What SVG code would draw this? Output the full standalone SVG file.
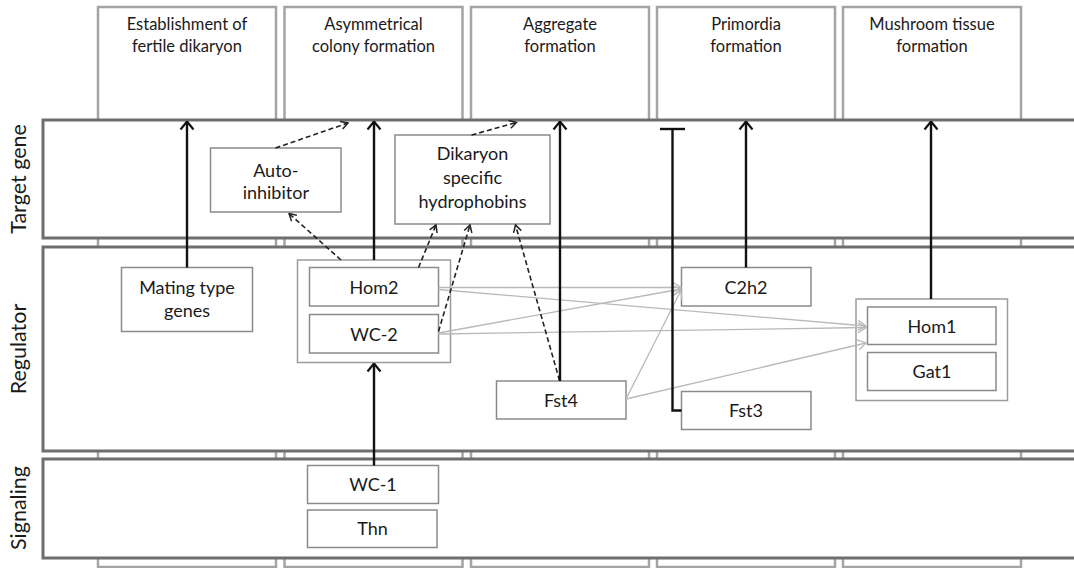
<svg xmlns="http://www.w3.org/2000/svg" width="1074" height="568" viewBox="0 0 1074 568">
  <style>
    text { font-family: Lato, "Liberation Sans", Arial, sans-serif; fill: #1a1a1a; text-anchor: middle; }
    .stage { fill: #ffffff; stroke: #a4a4a4; stroke-width: 2.5; }
    .band { fill: #ffffff; stroke: #6e6e6e; stroke-width: 3; }
    .box { fill: #ffffff; stroke: #8a8a8a; stroke-width: 1.5; }
    .grp { fill: #ffffff; stroke: #9c9c9c; stroke-width: 1.5; }
    .title { font-size: 16.5px; }
    .node { font-size: 18px; }
    .row { font-size: 21.5px; }
    .act { fill: none; stroke: #111111; stroke-width: 2.4; }
    .dash { fill: none; stroke: #222222; stroke-width: 1.6; stroke-dasharray: 5 3; }
    .weak { fill: none; stroke: #b9b9b9; stroke-width: 1.3; }
  </style>
  <defs>
    <marker id="arrow-solid" viewBox="0 0 10 16" refX="9" refY="8" markerWidth="10" markerHeight="16" markerUnits="userSpaceOnUse" orient="auto">
      <path d="M1,1.5 L9,8 L1,14.5" fill="none" stroke="#111111" stroke-width="2.2" stroke-dasharray="none"/>
    </marker>
    <marker id="arrow-dash" viewBox="0 0 9 10" refX="8" refY="5" markerWidth="9" markerHeight="10" markerUnits="userSpaceOnUse" orient="auto">
      <path d="M1,1 L8,5 L1,9" fill="none" stroke="#222222" stroke-width="1.5" stroke-dasharray="none"/>
    </marker>
    <marker id="arrow-weak" viewBox="0 0 10 12" refX="9" refY="6" markerWidth="10" markerHeight="12" markerUnits="userSpaceOnUse" orient="auto">
      <path d="M1,1 L9,6 L1,11" fill="none" stroke="#b9b9b9" stroke-width="1.3" stroke-dasharray="none"/>
    </marker>
  </defs>

  <!-- developmental stage columns -->
  <g id="stages">
    <rect class="stage" x="98" y="7" width="178" height="560"/>
    <rect class="stage" x="284.5" y="7" width="178" height="560"/>
    <rect class="stage" x="471" y="7" width="178" height="560"/>
    <rect class="stage" x="657" y="7" width="178" height="560"/>
    <rect class="stage" x="843" y="7" width="178" height="560"/>
    <text class="title" x="187" y="30">Establishment of</text>
    <text class="title" x="187" y="52">fertile dikaryon</text>
    <text class="title" x="373.5" y="30">Asymmetrical</text>
    <text class="title" x="373.5" y="52">colony formation</text>
    <text class="title" x="560" y="30">Aggregate</text>
    <text class="title" x="560" y="52">formation</text>
    <text class="title" x="746" y="30">Primordia</text>
    <text class="title" x="746" y="52">formation</text>
    <text class="title" x="932" y="30">Mushroom tissue</text>
    <text class="title" x="932" y="52">formation</text>
  </g>

  <!-- horizontal level bands -->
  <g id="bands">
    <rect class="band" x="43" y="120" width="1050" height="118"/>
    <rect class="band" x="43" y="247" width="1050" height="204"/>
    <rect class="band" x="43" y="459" width="1050" height="99"/>
    <text class="row" transform="translate(26,179) rotate(-90)">Target gene</text>
    <text class="row" transform="translate(26,349) rotate(-90)">Regulator</text>
    <text class="row" transform="translate(26,508) rotate(-90)">Signaling</text>
  </g>

  <!-- target genes -->
  <g id="auto-inhibitor">
    <rect class="box" x="210.5" y="148" width="130.5" height="64"/>
    <text class="node" x="275.8" y="177">Auto-</text>
    <text class="node" x="275.8" y="198.5">inhibitor</text>
  </g>
  <g id="hydrophobins">
    <rect class="box" x="395" y="135" width="155" height="89"/>
    <text class="node" x="472.5" y="160">Dikaryon</text>
    <text class="node" x="472.5" y="184">specific</text>
    <text class="node" x="472.5" y="208">hydrophobins</text>
  </g>

  <!-- regulators -->
  <g id="mating-type">
    <rect class="box" x="121.5" y="267.5" width="131" height="64"/>
    <text class="node" x="187" y="294">Mating type</text>
    <text class="node" x="187" y="317">genes</text>
  </g>
  <g id="hom2-wc2">
    <rect class="grp" x="297.5" y="260" width="153" height="102.5"/>
    <g id="hom2">
      <rect class="box" x="309.5" y="267.5" width="129" height="38.5"/>
      <text class="node" x="374" y="293.5">Hom2</text>
    </g>
    <g id="wc2">
      <rect class="box" x="309.5" y="314.5" width="129" height="38.5"/>
      <text class="node" x="374" y="340.5">WC-2</text>
    </g>
  </g>
  <g id="fst4">
    <rect class="box" x="496.5" y="381" width="129.5" height="38"/>
    <text class="node" x="561" y="406.5">Fst4</text>
  </g>
  <g id="c2h2">
    <rect class="box" x="681.5" y="267.5" width="129.5" height="38.5"/>
    <text class="node" x="746" y="294">C2h2</text>
  </g>
  <g id="fst3">
    <rect class="box" x="681.5" y="391.5" width="129.5" height="38"/>
    <text class="node" x="746" y="417">Fst3</text>
  </g>
  <g id="hom1-gat1">
    <rect class="grp" x="856" y="299" width="151.5" height="101.5"/>
    <g id="hom1">
      <rect class="box" x="867.5" y="307" width="128.5" height="37.5"/>
      <text class="node" x="932" y="332.5">Hom1</text>
    </g>
    <g id="gat1">
      <rect class="box" x="867.5" y="352.5" width="128.5" height="38"/>
      <text class="node" x="932" y="378">Gat1</text>
    </g>
  </g>

  <!-- signaling -->
  <g id="wc1">
    <rect class="box" x="307.5" y="465.5" width="131" height="38"/>
    <text class="node" x="373" y="491">WC-1</text>
  </g>
  <g id="thn">
    <rect class="box" x="307.5" y="510" width="129.5" height="37.5"/>
    <text class="node" x="372.5" y="535">Thn</text>
  </g>

  <!-- connectors -->
  <g id="connectors">
    <!-- weak regulatory links -->
    <line class="weak" x1="438.5" y1="287.5" x2="681" y2="287.5" marker-end="url(#arrow-weak)"/>
    <line class="weak" x1="438.5" y1="289.5" x2="866" y2="326" marker-end="url(#arrow-weak)"/>
    <line class="weak" x1="438.5" y1="333" x2="681" y2="289" marker-end="url(#arrow-weak)"/>
    <line class="weak" x1="438.5" y1="334" x2="866" y2="327.5" marker-end="url(#arrow-weak)"/>
    <line class="weak" x1="626" y1="399" x2="681" y2="290.5" marker-end="url(#arrow-weak)"/>
    <line class="weak" x1="626" y1="399" x2="866" y2="343" marker-end="url(#arrow-weak)"/>

    <!-- dashed links to target genes -->
    <line class="dash" x1="275.5" y1="148" x2="348" y2="123" marker-end="url(#arrow-dash)"/>
    <line class="dash" x1="471.5" y1="135" x2="516.5" y2="122.5" marker-end="url(#arrow-dash)"/>
    <line class="dash" x1="341" y1="260" x2="289" y2="213.5" marker-end="url(#arrow-dash)"/>
    <line class="dash" x1="418.5" y1="267.5" x2="436" y2="225" marker-end="url(#arrow-dash)"/>
    <line class="dash" x1="438.5" y1="331.5" x2="470" y2="225" marker-end="url(#arrow-dash)"/>
    <line class="dash" x1="559.5" y1="380.5" x2="515.5" y2="225" marker-end="url(#arrow-dash)"/>

    <!-- activation to stages -->
    <line class="act" x1="187" y1="267.5" x2="187" y2="121.5" marker-end="url(#arrow-solid)"/>
    <line class="act" x1="374" y1="260" x2="374" y2="121.5" marker-end="url(#arrow-solid)"/>
    <line class="act" x1="560" y1="381" x2="560" y2="121.5" marker-end="url(#arrow-solid)"/>
    <line class="act" x1="746" y1="267.5" x2="746" y2="121.5" marker-end="url(#arrow-solid)"/>
    <line class="act" x1="931" y1="299" x2="931" y2="121.5" marker-end="url(#arrow-solid)"/>
    <line class="act" x1="374" y1="465.5" x2="374" y2="363.5" marker-end="url(#arrow-solid)"/>

    <!-- Fst3 repression -->
    <path class="act" d="M672.5,129 L672.5,410.5 L681.5,410.5"/>
    <line class="act" x1="660" y1="129" x2="685" y2="129"/>
  </g>
</svg>
